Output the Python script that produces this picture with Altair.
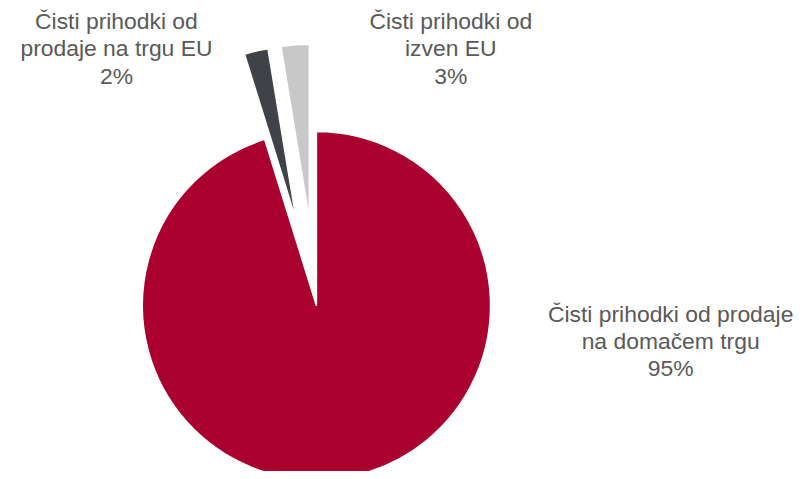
import altair as alt
import pandas as pd

# ---- data ----
categories = [
    "Čisti prihodki od prodaje na domačem trgu",
    "Čisti prihodki od prodaje na trgu EU",
    "Čisti prihodki od izven EU",
]
shares = [95.2, 2.2, 2.6]
label_lines = [
    "Čisti prihodki od prodaje\nna domačem trgu",
    "Čisti prihodki od\nprodaje na trgu EU",
    "Čisti prihodki od\nizven EU",
]

# ---- style ----
colors = ["#AA002E", "#3F4347", "#C8C8C8"]
explode = [0, 88, 88]
label_anchor = [(666, 314), (109, 20), (445, 20)]  # label text anchors (px)
CX, CY, R = 310, 298, 175

df = pd.DataFrame({
    "category": categories,
    "share": shares,
    "order": list(range(len(categories))),
    "wrapped": label_lines,
    "explode": explode,
    "lx": [a[0] for a in label_anchor],
    "ly": [a[1] for a in label_anchor],
})

base = alt.Chart(df).transform_joinaggregate(
    total="sum(share)"
).transform_window(
    cum="sum(share)", sort=[alt.SortField("order")], frame=[None, 0]
).transform_calculate(
    t1="2*PI*datum.cum/datum.total",
    t0="2*PI*(datum.cum-datum.share)/datum.total",
).transform_calculate(
    mid="(datum.t0+datum.t1)/2",
).transform_calculate(
    cx=f"{CX}+datum.explode*sin(datum.mid)",
    cy=f"{CY}-datum.explode*cos(datum.mid)",
    label="datum.wrapped + '\\n' + format(datum.share/datum.total, '.0%')",
)

arcs = base.mark_arc(radius=R, stroke="white", strokeWidth=1.5).encode(
    x=alt.X("cx:Q", scale=None, axis=None),
    y=alt.Y("cy:Q", scale=None, axis=None),
    theta=alt.Theta("t0:Q", scale=None),
    theta2=alt.Theta2("t1:Q"),
    color=alt.Color("category:N", scale=alt.Scale(domain=categories, range=colors), legend=None),
)

labels = base.mark_text(
    font="Liberation Sans", fontSize=23, color="#595959", align="center",
    baseline="alphabetic", lineBreak="\n", lineHeight=27.5,
).encode(
    x=alt.X("lx:Q", scale=None, axis=None),
    y=alt.Y("ly:Q", scale=None, axis=None),
    text="label:N",
)

chart = alt.layer(arcs, labels).properties(
    width=795, height=463, padding=0, autosize=alt.AutoSizeParams(type="none"),
).configure_view(stroke=None)

chart.save("out.html", embed_options={"renderer": "svg", "actions": False})
